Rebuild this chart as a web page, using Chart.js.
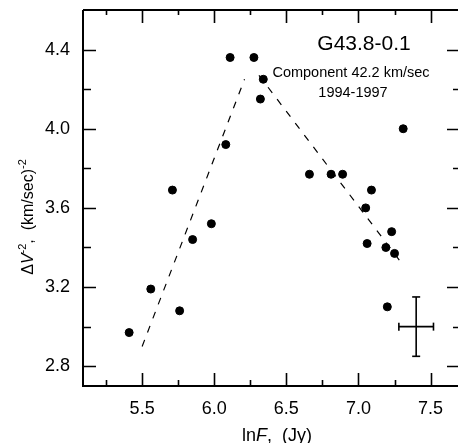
<!DOCTYPE html>
<html>
<head>
<meta charset="utf-8">
<script src="https://cdn.jsdelivr.net/npm/chart.js@4/dist/chart.umd.min.js"></script>
<style>
  html, body { margin: 0; padding: 0; background: #fff; }
  #wrap { width: 458px; height: 443px; }
</style>
</head>
<body>
<div id="wrap"><canvas id="chart" width="458" height="443"></canvas></div>
<script>
// observed points: lnF (Jy) vs dV^-2 (km/sec)^-2
const lnF = [5.41, 5.56, 5.71, 5.76, 5.85, 5.98, 6.08, 6.11, 6.275, 6.34, 6.32,
             6.66, 6.81, 6.89, 7.09, 7.05, 7.06, 7.23, 7.19, 7.25, 7.20, 7.31];
const dV2 = [2.97, 3.19, 3.69, 3.08, 3.44, 3.52, 3.92, 4.36, 4.36, 4.25, 4.15,
             3.77, 3.77, 3.77, 3.69, 3.60, 3.42, 3.48, 3.40, 3.37, 3.10, 4.00];

// dashed fits (end points)
const riseX = [5.50, 6.21];
const riseY = [2.90, 4.25];
const fallX = [6.31, 7.30];
const fallY = [4.27, 3.32];

// error cross
const errX = 7.40, errY = 3.00;
const errDx = 0.12, errDy = 0.15;

const xTickValues = [5.25, 5.5, 5.75, 6.0, 6.25, 6.5, 6.75, 7.0, 7.25, 7.5];
const xTickLabels = ['', '5.5', '', '6.0', '', '6.5', '', '7.0', '', '7.5'];
const yTickValues = [2.8, 3.0, 3.2, 3.4, 3.6, 3.8, 4.0, 4.2, 4.4];
const yTickLabels = ['2.8', '', '3.2', '', '3.6', '', '4.0', '', '4.4'];

const FONT = '"Liberation Sans", Arial, Helvetica, sans-serif';

function pairs(xs, ys) {
    return xs.map((x, i) => ({ x: x, y: ys[i] }));
}

function noPad(s) {
    s.paddingTop = 0; s.paddingBottom = 0;
    s.paddingLeft = 0; s.paddingRight = 0;
}

// inward ticks on all four sides + frame
const framePlugin = {
    id: 'frame',
    afterDraw(chart) {
        const ctx = chart.ctx;
        const a = chart.chartArea;
        const xs = chart.scales.x, ys = chart.scales.y;
        ctx.save();
        ctx.strokeStyle = '#000';
        ctx.lineWidth = 2;
        ctx.beginPath();
        ctx.moveTo(a.left, a.top); ctx.lineTo(a.left, a.bottom); ctx.lineTo(a.right, a.bottom);
        ctx.moveTo(a.left, a.top); ctx.lineTo(a.right, a.top);
        ctx.stroke();
        ctx.lineWidth = 1.6;
        ctx.beginPath();
        xTickValues.forEach((v, i) => {
            const px = Math.round(xs.getPixelForValue(v)) + 0.5;
            const major = xTickLabels[i] !== '';
            ctx.moveTo(px, a.bottom); ctx.lineTo(px, a.bottom - (major ? 13 : 6));
            ctx.moveTo(px, a.top); ctx.lineTo(px, a.top + (major ? 13 : 5));
        });
        yTickValues.forEach((v, i) => {
            const py = Math.round(ys.getPixelForValue(v)) + 0.5;
            const major = yTickLabels[i] !== '';
            ctx.moveTo(a.left, py); ctx.lineTo(a.left + (major ? 13 : 8), py);
            ctx.moveTo(a.right, py); ctx.lineTo(a.right - (major ? 11 : 5), py);
        });
        ctx.stroke();

        // annotation text
        ctx.fillStyle = '#000';
        ctx.textAlign = 'center';
        ctx.textBaseline = 'alphabetic';
        ctx.font = '21px ' + FONT;
        ctx.fillText('G43.8-0.1', 364, 50);
        ctx.font = '14.5px ' + FONT;
        ctx.fillText('Component 42.2 km/sec', 351, 77);
        ctx.fillText('1994-1997', 353, 97);

        // x title: lnF,  (Jy)
        drawRuns(ctx, [
            { t: 'ln', f: '18px ' + FONT },
            { t: 'F', f: 'italic 18px ' + FONT },
            { t: ',  (Jy)', f: '18px ' + FONT }
        ], 277, 441);

        // y title rotated
        ctx.save();
        ctx.translate(33, 217);
        ctx.rotate(-Math.PI / 2);
        drawRuns(ctx, [
            { t: '\u0394', f: '16px ' + FONT },
            { t: 'V', f: 'italic 16px ' + FONT },
            { t: '-2', f: '11px ' + FONT, dy: -7 },
            { t: ',  (km/sec)', f: '16px ' + FONT },
            { t: '-2', f: '11px ' + FONT, dy: -7 }
        ], 0, 0);
        ctx.restore();
        ctx.restore();
    }
};

function drawRuns(ctx, runs, cx, baseY) {
    let total = 0;
    runs.forEach(r => { ctx.font = r.f; r.w = ctx.measureText(r.t).width; total += r.w; });
    let x = cx - total / 2;
    ctx.textAlign = 'left';
    runs.forEach(r => {
        ctx.font = r.f;
        ctx.fillText(r.t, x, baseY + (r.dy || 0));
        x += r.w;
    });
    ctx.textAlign = 'center';
}

new Chart(document.getElementById('chart'), {
    type: 'scatter',
    data: {
        datasets: [
            {
                data: pairs(lnF, dV2),
                backgroundColor: '#000',
                borderColor: '#000',
                pointRadius: 4,
                pointHoverRadius: 4
            },
            {
                type: 'line',
                data: pairs(riseX, riseY),
                borderColor: '#000',
                borderWidth: 1.2,
                borderDash: [7, 8],
                pointRadius: 0,
                fill: false
            },
            {
                type: 'line',
                data: pairs(fallX, fallY),
                borderColor: '#000',
                borderWidth: 1.2,
                borderDash: [7, 8],
                pointRadius: 0,
                fill: false
            },
            {
                type: 'line',
                data: [{ x: errX, y: errY - errDy }, { x: errX, y: errY + errDy }],
                borderColor: '#000',
                borderWidth: 1.6,
                pointStyle: 'line',
                pointRadius: 4,
                pointBorderWidth: 1.6,
                pointBorderColor: '#000',
                fill: false
            },
            {
                type: 'line',
                data: [{ x: errX - errDx, y: errY }, { x: errX + errDx, y: errY }],
                borderColor: '#000',
                borderWidth: 1.6,
                pointStyle: 'line',
                pointRotation: 90,
                pointRadius: 4,
                pointBorderWidth: 1.6,
                pointBorderColor: '#000',
                fill: false
            }
        ]
    },
    options: {
        responsive: false,
        animation: false,
        devicePixelRatio: 1,
        layout: { autoPadding: false, padding: { top: 10, right: 0, left: 0, bottom: 0 } },
        plugins: {
            legend: { display: false },
            tooltip: { enabled: false }
        },
        scales: {
            x: {
                type: 'linear',
                min: 5.09,
                max: 7.69,
                grid: { display: false, drawTicks: false },
                border: { display: false },
                afterBuildTicks: s => { s.ticks = xTickValues.map(v => ({ value: v })); },
                afterFit: s => { s.height = 57; noPad(s); },
                ticks: {
                    autoSkip: false,
                    maxRotation: 0,
                    padding: 12,
                    color: '#000',
                    font: { family: FONT, size: 18 },
                    callback: (v, i) => xTickLabels[i]
                }
            },
            y: {
                type: 'linear',
                min: 2.7,
                max: 4.6,
                grid: { display: false, drawTicks: false },
                border: { display: false },
                afterBuildTicks: s => { s.ticks = yTickValues.map(v => ({ value: v })); },
                afterFit: s => { s.width = 83; noPad(s); },
                ticks: {
                    autoSkip: false,
                    padding: 13,
                    color: '#000',
                    font: { family: FONT, size: 18 },
                    callback: (v, i) => yTickLabels[i]
                }
            }
        }
    },
    plugins: [framePlugin]
});
</script>
</body>
</html>
